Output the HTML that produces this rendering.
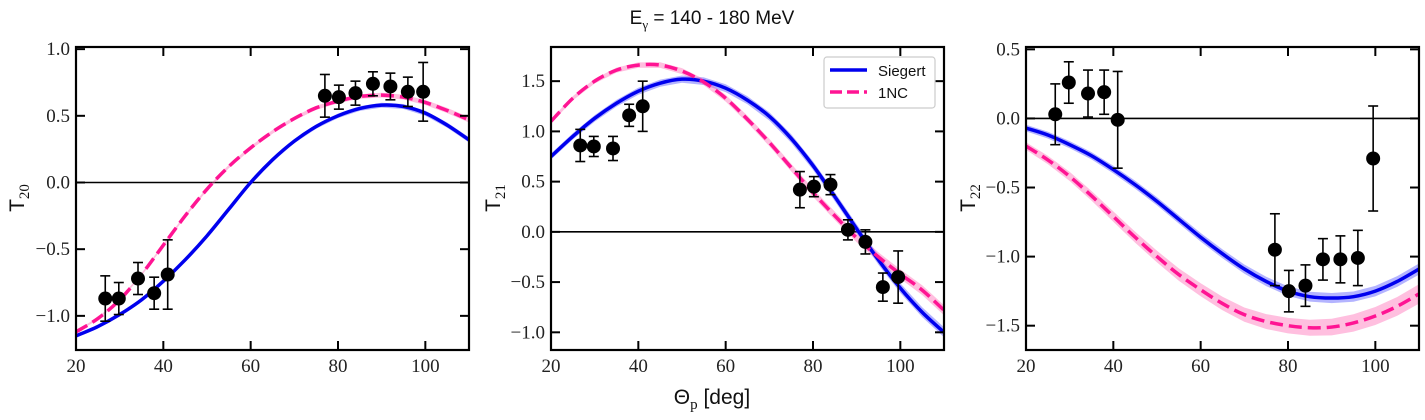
<!DOCTYPE html>
<html><head><meta charset="utf-8">
<style>
html,body{margin:0;padding:0;background:#fff;}
svg{display:block;}
.tick{font-family:"Liberation Serif",serif;font-size:19px;fill:#222;}
.lab{font-family:"Liberation Sans",sans-serif;font-size:21px;fill:#111;}
.sub{font-family:"Liberation Serif",serif;font-size:15px;}
</style></head>
<body>
<svg id="fig" width="1425" height="420" viewBox="0 0 1425 420" xmlns="http://www.w3.org/2000/svg">
<text x="712" y="24" text-anchor="middle" class="lab" style="font-size:19px">E<tspan class="sub" dy="5" style="font-size:13px">γ</tspan><tspan dy="-5"> = 140 - 180 MeV</tspan></text>
<text x="712" y="404" text-anchor="middle" class="lab">Θ<tspan class="sub" dy="5">p</tspan><tspan dy="-5"> [deg]</tspan></text>
</svg>
<script>
const thetaGrid = [20,25,30,35,40,45,50,55,60,65,70,75,80,85,90,95,100,105,110];
const t20Siegert = [-1.15,-1.08,-0.99,-0.88,-0.74,-0.58,-0.40,-0.20,0.0,0.17,0.31,0.42,0.50,0.555,0.58,0.57,0.52,0.43,0.32];
const t20NC = [-1.12,-1.02,-0.88,-0.69,-0.47,-0.25,-0.05,0.12,0.26,0.38,0.48,0.56,0.61,0.645,0.655,0.64,0.60,0.54,0.47];
const t21Siegert = [0.75,0.95,1.13,1.28,1.40,1.48,1.52,1.50,1.43,1.31,1.15,0.93,0.66,0.35,0.03,-0.28,-0.56,-0.80,-1.0];
const t21NC = [1.1,1.33,1.5,1.61,1.66,1.66,1.6,1.49,1.33,1.12,0.89,0.64,0.39,0.16,-0.06,-0.25,-0.42,-0.58,-0.78];
const t22Siegert = [-0.07,-0.12,-0.19,-0.27,-0.37,-0.48,-0.60,-0.73,-0.86,-0.98,-1.09,-1.18,-1.25,-1.29,-1.30,-1.29,-1.25,-1.18,-1.09];
const t22NC = [-0.2,-0.3,-0.42,-0.56,-0.71,-0.86,-1.0,-1.13,-1.24,-1.34,-1.42,-1.47,-1.50,-1.515,-1.51,-1.48,-1.43,-1.36,-1.27];
const dataTheta = [26.7,29.8,34.2,37.9,41,77,80.2,84,88,92,96,99.5];
const t20Data = [-0.87,-0.87,-0.72,-0.83,-0.69,0.65,0.64,0.67,0.74,0.72,0.68,0.68];
const t20Err = [0.17,0.12,0.12,0.12,0.26,0.16,0.09,0.09,0.09,0.1,0.11,0.22];
const t21Data = [0.86,0.85,0.83,1.16,1.25,0.42,0.45,0.47,0.02,-0.1,-0.55,-0.45];
const t21Err = [0.16,0.1,0.12,0.11,0.25,0.18,0.1,0.1,0.1,0.12,0.14,0.26];
const t22Data = [0.03,0.26,0.18,0.19,-0.01,-0.95,-1.25,-1.21,-1.02,-1.02,-1.01,-0.29];
const t22Err = [0.22,0.15,0.17,0.16,0.35,0.26,0.15,0.15,0.15,0.17,0.2,0.38];
const xTicks = [20,40,60,80,100];
const t20Ticks = [-1.0,-0.5,0.0,0.5,1.0];
const t21Ticks = [-1.0,-0.5,0.0,0.5,1.0,1.5];
const t22Ticks = [-1.5,-1.0,-0.5,0.0,0.5];

const NS="http://www.w3.org/2000/svg";
const fig=document.getElementById('fig');
function mk(tag,attrs,parent){const e=document.createElementNS(NS,tag);for(const k in attrs)e.setAttribute(k,attrs[k]);(parent||fig).appendChild(e);return e;}
function fmt(v){const s=Math.abs(v).toFixed(1);return (v<0?'\u2212':'')+s;}

function panel(o){
  const L=o.left,R=o.left+393,T=47,B=350;
  const xs=v=>L+(v-20)/90*(R-L);
  const ys=v=>T+(o.ymax-v)/(o.ymax-o.ymin)*(B-T);
  const g=mk('g',{});
  
  
  const cp=mk('clipPath',{id:'c'+o.name},g);
  mk('rect',{x:L,y:T,width:R-L,height:B-T},cp);
  const pg=mk('g',{'clip-path':'url(#c'+o.name+')'},g);
  const zl=mk('line',{x1:L,x2:R,y1:ys(0),y2:ys(0),stroke:'#000','stroke-width':1.6},pg);
  
  
  function band(arr,w,color){
    let d='';thetaGrid.forEach((t,i)=>{d+=(i?'L':'M')+xs(t).toFixed(1)+','+ys(arr[i]+w[i]).toFixed(1);});
    for(let i=thetaGrid.length-1;i>=0;i--)d+='L'+xs(thetaGrid[i]).toFixed(1)+','+ys(arr[i]-w[i]).toFixed(1);
    return mk('path',{d:d+'Z',fill:color,'fill-opacity':0.4,stroke:'none'},pg);
  }
  function curve(arr){
    const n=thetaGrid.length;
    const P=thetaGrid.map((t,i)=>[xs(t),ys(arr[i])]);
    let d='M'+P[0][0]+','+P[0][1];
    for(let i=0;i<n-1;i++){
      const p0=P[Math.max(i-1,0)],p1=P[i],p2=P[i+1],p3=P[Math.min(i+2,n-1)];
      const c1=[p1[0]+(p2[0]-p0[0])/6,p1[1]+(p2[1]-p0[1])/6];
      const c2=[p2[0]-(p3[0]-p1[0])/6,p2[1]-(p3[1]-p1[1])/6];
      d+='C'+c1.join(',')+' '+c2.join(',')+' '+p2.join(',');
    }
    return d;
  }
  const bw=thetaGrid.map((t,i)=>o.bb*(0.6+0.4*i/18));
  const pw=thetaGrid.map((t,i)=>o.pb*(0.4+0.6*i/18));
  const b1=band(o.blue,bw,'#4444ff');
  
  
  const b2=band(o.pink,pw,'#ff5fb0');
  
  
  const lb=mk('path',{d:curve(o.blue),fill:'none',stroke:'#0000ee','stroke-width':3.5},pg);
  
  
  const lp=mk('path',{d:curve(o.pink),fill:'none',stroke:'#ff1493','stroke-width':3.5,'stroke-dasharray':'13,6'},pg);
  
  
  dataTheta.forEach((t,i)=>{
    const x=xs(t),y=ys(o.data[i]),e1=ys(o.data[i]+o.err[i]),e2=ys(o.data[i]-o.err[i]);
    const pt=mk('g',{},pg);
    
    
    mk('line',{x1:x,x2:x,y1:e1,y2:e2,stroke:'#000','stroke-width':1.6},pt);
    mk('line',{x1:x-5,x2:x+5,y1:e1,y2:e1,stroke:'#000','stroke-width':1.6},pt);
    mk('line',{x1:x-5,x2:x+5,y1:e2,y2:e2,stroke:'#000','stroke-width':1.6},pt);
    mk('circle',{cx:x,cy:y,r:7,fill:'#000'},pt);
  });
  xTicks.forEach(v=>{
    const x=xs(v);
    mk('line',{x1:x,x2:x,y1:B,y2:B-9,stroke:'#000','stroke-width':2},g);
    mk('line',{x1:x,x2:x,y1:T,y2:T+9,stroke:'#000','stroke-width':2},g);
    const tx=mk('text',{x:x,y:B+22,'text-anchor':'middle',class:'tick'},g);
    tx.textContent=String(v);
    
    
  });
  o.ticks.forEach(v=>{
    const y=ys(v);
    mk('line',{x1:L,x2:L+9,y1:y,y2:y,stroke:'#000','stroke-width':2},g);
    mk('line',{x1:R,x2:R-9,y1:y,y2:y,stroke:'#000','stroke-width':2},g);
    const tx=mk('text',{x:L-6,y:y+6,'text-anchor':'end',class:'tick'},g);
    tx.textContent=fmt(v);
    
    
  });
  const fr=mk('rect',{x:L,y:T,width:R-L,height:B-T,fill:'none',stroke:'#000','stroke-width':2.2},g);
  
  
  const yl=mk('text',{x:0,y:0,class:'lab',transform:'translate('+o.ylx+',198) rotate(-90)','text-anchor':'middle'},g);
  
  
  yl.innerHTML='T<tspan class="sub" dy="5">'+o.sub+'</tspan>';
  return g;
}

panel({name:'panel-t20',left:76,ymin:-1.256,ymax:1.016,blue:t20Siegert,pink:t20NC,data:t20Data,err:t20Err,ticks:t20Ticks,sub:'20',ylx:24,bb:0.02,pb:0.02});
panel({name:'panel-t21',left:551,ymin:-1.176,ymax:1.84,blue:t21Siegert,pink:t21NC,data:t21Data,err:t21Err,ticks:t21Ticks,sub:'21',ylx:500,bb:0.05,pb:0.05});
panel({name:'panel-t22',left:1026,ymin:-1.676,ymax:0.517,blue:t22Siegert,pink:t22NC,data:t22Data,err:t22Err,ticks:t22Ticks,sub:'22',ylx:975,bb:0.04,pb:0.07});

const lg=mk('g',{});


mk('rect',{x:824,y:57,width:111,height:51,rx:3,fill:'#fff','fill-opacity':0.85,stroke:'#ccc','stroke-width':1.2},lg);
mk('line',{x1:830,x2:867,y1:70,y2:70,stroke:'#0000ee','stroke-width':3.5},lg);
mk('line',{x1:830,x2:867,y1:92,y2:92,stroke:'#ff1493','stroke-width':3.5,'stroke-dasharray':'12,5'},lg);
const le1=mk('text',{x:878,y:76,class:'lab',style:'font-size:15px'},lg);
le1.textContent='Siegert';


const le2=mk('text',{x:878,y:98,class:'lab',style:'font-size:15px'},lg);
le2.textContent='1NC';


</script>
</body></html>
